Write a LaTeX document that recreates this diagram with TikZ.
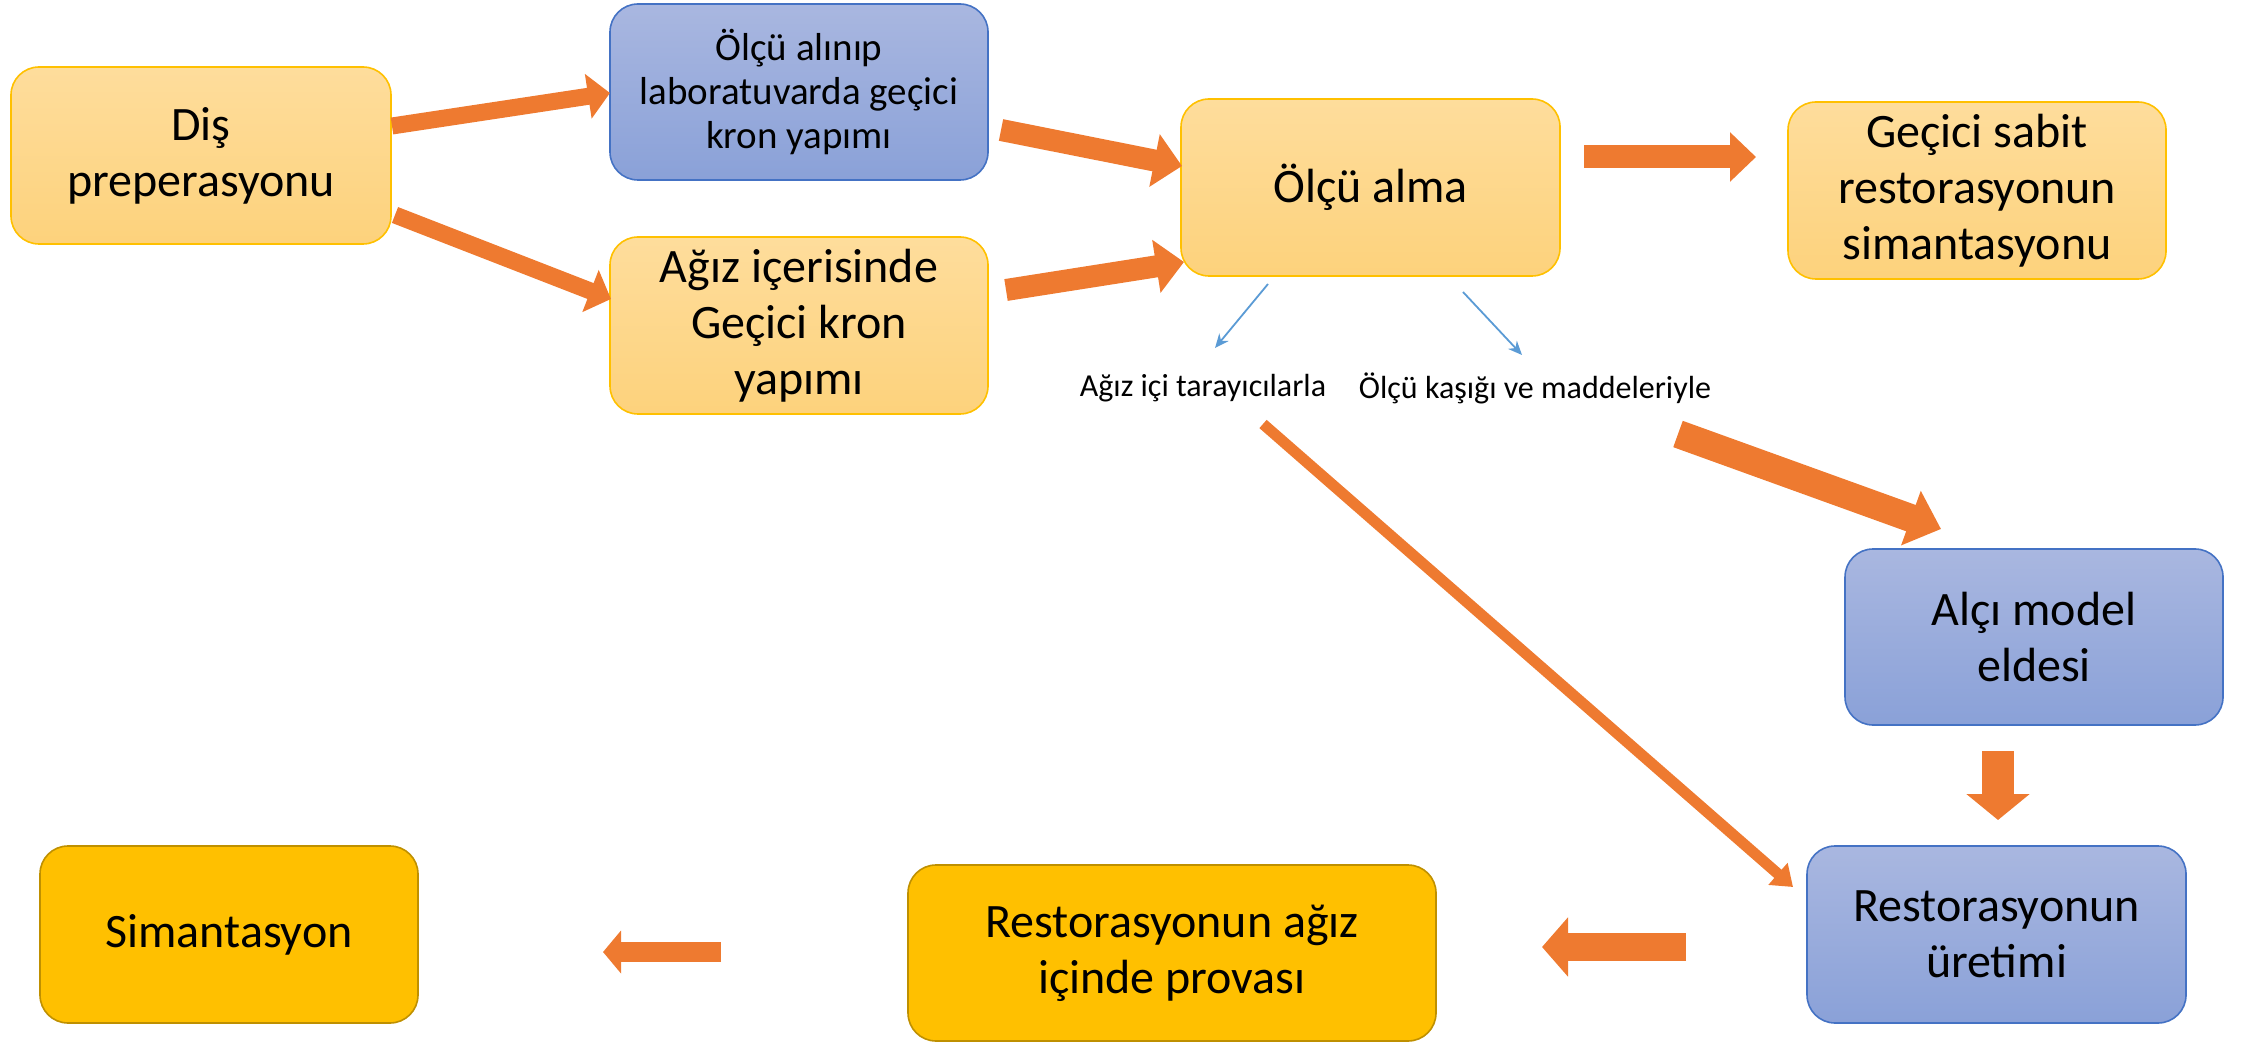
\documentclass[tikz,border=0pt]{standalone}
\usepackage{fontspec}
\setmainfont{Carlito}
\usetikzlibrary{arrows.meta}
\definecolor{orfill1}{HTML}{FEDD9C}
\definecolor{orfill2}{HTML}{FDD27C}
\definecolor{orline}{HTML}{FFC000}
\definecolor{blfill1}{HTML}{A9B7E0}
\definecolor{blfill2}{HTML}{8AA1D8}
\definecolor{blline}{HTML}{4472C4}
\definecolor{goldfill}{HTML}{FFC000}
\definecolor{goldline}{HTML}{BF9000}
\definecolor{arrorange}{HTML}{EE7A30}
\definecolor{thinblue}{HTML}{5B9BD5}
\tikzset{
  boxbase/.style={rounded corners=14pt, align=center, inner sep=2pt, line width=0.8pt},
  orbox/.style={boxbase, draw=orline, top color=orfill1, bottom color=orfill2,
    font=\fontsize{24}{28}\selectfont},
  blbox/.style={boxbase, draw=blline, top color=blfill1, bottom color=blfill2,
    font=\fontsize{24}{28}\selectfont},
  smallbl/.style={blbox, font=\fontsize{19.5}{22}\selectfont},
  goldbox/.style={boxbase, draw=goldline, fill=goldfill, font=\fontsize{24}{28}\selectfont},
  blockarr/.style n args={3}{draw=arrorange, line width=#1,
    -{Triangle[width=#2, length=#3]}},
  thinarr/.style={draw=thinblue, line width=0.9pt, -{Stealth[length=7pt, width=6pt]}},
  lbl/.style={font=\fontsize{16}{19}\selectfont, inner sep=0pt}
}
\begin{document}
\begin{tikzpicture}[x=0.5pt, y=-0.5pt]
\useasboundingbox (0,0) rectangle (2252,1042);
% boxes
\node[orbox, minimum width=190pt, minimum height=88.5pt] (dis) at (201,155.5) {Diş\\preperasyonu};
\node[smallbl, minimum width=189pt, minimum height=88pt] (lab) at (799,92) {Ölçü alınıp\\laboratuvarda geçici\\kron yapımı};
\node[orbox, minimum width=189pt, minimum height=88.5pt] (agiz) at (799,325.5) {Ağız içerisinde\\Geçici kron\\yapımı};
\node[orbox, minimum width=189.5pt, minimum height=88.5pt] (olcu) at (1370.5,187.5) {Ölçü alma};
\node[orbox, minimum width=189pt, minimum height=88.5pt] (gecici) at (1977,190.5) {Geçici sabit\\restorasyonun\\simantasyonu};
\node[blbox, minimum width=189pt, minimum height=88pt] (alci) at (2034,637) {Alçı model\\eldesi};
\node[blbox, minimum width=189.5pt, minimum height=88.5pt] (uretim) at (1996.5,934.5) {Restorasyonun\\üretimi};
\node[goldbox, minimum width=264pt, minimum height=88pt] (prova) at (1172,953) {Restorasyonun ağız\\içinde provası};
\node[goldbox, minimum width=189pt, minimum height=88.5pt] (siman) at (229,934.5) {Simantasyon};
% labels
\node[lbl] (tar) at (1203,388) {Ağız içi tarayıcılarla};
\node[lbl] (kas) at (1535,388) {Ölçü kaşığı ve maddeleriyle};
% arrow end points
\coordinate (a1s) at (392,126); \coordinate (a1e) at (610,93);
\coordinate (a2s) at (395,215); \coordinate (a2e) at (611,299);
\coordinate (a3s) at (1001,130); \coordinate (a3e) at (1182,166);
\coordinate (a4s) at (1006,290); \coordinate (a4e) at (1184,262);
\coordinate (a5s) at (1584,157); \coordinate (a5e) at (1756,157);
\coordinate (b1s) at (1268,284); \coordinate (b1e) at (1215,348);
\coordinate (b2s) at (1463,292); \coordinate (b2e) at (1522,355);
\coordinate (a6s) at (1263,424); \coordinate (a6e) at (1793,887);
\coordinate (a7s) at (1678,434); \coordinate (a7e) at (1941,529);
\coordinate (a8s) at (1998,751); \coordinate (a8e) at (1998,820);
\coordinate (a9s) at (1686,947); \coordinate (a9e) at (1542,947);
\coordinate (a10s) at (721,952); \coordinate (a10e) at (603,952);
% orange block arrows
\draw[blockarr={8.5pt}{22pt}{11pt}] (a1s) -- (a1e);
\draw[blockarr={8.5pt}{22pt}{11pt}] (a2s) -- (a2e);
\draw[blockarr={11pt}{26pt}{14pt}] (a3s) -- (a3e);
\draw[blockarr={11pt}{26pt}{14pt}] (a4s) -- (a4e);
\draw[blockarr={11.5pt}{24pt}{13pt}] (a5s) -- (a5e);
\draw[blockarr={5.5pt}{14pt}{10pt}] (a6s) -- (a6e);
\draw[blockarr={14pt}{28pt}{16pt}] (a7s) -- (a7e);
\draw[blockarr={16pt}{31pt}{13pt}] (a8s) -- (a8e);
\draw[blockarr={14pt}{29pt}{13pt}] (a9s) -- (a9e);
\draw[blockarr={10pt}{21pt}{9pt}] (a10s) -- (a10e);
% thin blue arrows
\draw[thinarr] (b1s) -- (b1e);
\draw[thinarr] (b2s) -- (b2e);
\end{tikzpicture}
\end{document}
